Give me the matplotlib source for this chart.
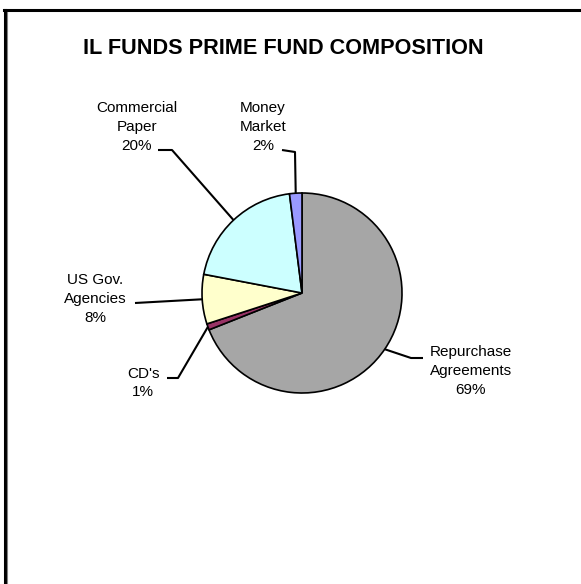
import numpy as np
import matplotlib.pyplot as plt
from matplotlib.lines import Line2D

plt.rcParams['font.family'] = ['Liberation Sans', 'DejaVu Sans']

# fund composition, clockwise from 12 o'clock
names = ["Repurchase\nAgreements", "CD's", "US Gov.\nAgencies",
         "Commercial\nPaper", "Money\nMarket"]
shares = [69, 1, 8, 20, 2]
colors = ['#A6A6A6', '#993366', '#FFFFCC', '#CCFFFF', '#9999FF']

W, H = 581, 584
fig = plt.figure(figsize=(W / 100, H / 100), dpi=100)
ax = fig.add_axes([0, 0, 1, 1])

# pie in pixel-like coords (y up)
cx, cy, R = 302, H - 293, 100
wedges, _ = ax.pie(shares, colors=colors, startangle=90, counterclock=False,
                   radius=R, center=(cx, cy),
                   wedgeprops=dict(edgecolor='black', linewidth=1.2))
ax.set_xlim(0, W)
ax.set_ylim(0, H)
ax.set_aspect('equal')
ax.axis('off')

# label placement: text centre and leader elbow/end (image px)
text_pos = [(471, 371), (143, 383), (95, 299), (137, 127), (263, 127)]
elbow = [(411, 358), (178, 378), None, (172, 150), (295, 152)]
line_end = [(423, 358), (167, 378), (135, 303), (158, 150), (282, 150)]

for w, name, val, tp, el, le in zip(wedges, names, shares, text_pos, elbow, line_end):
    mid = np.deg2rad((w.theta1 + w.theta2) / 2)
    ax_x = cx + R * np.cos(mid)
    ax_y = cy + R * np.sin(mid)
    pts = [(ax_x, ax_y)]
    if el is not None:
        pts.append((el[0], H - el[1]))
    pts.append((le[0], H - le[1]))
    xs, ys = zip(*pts)
    ax.plot(xs, ys, color='black', lw=1.5, solid_capstyle='butt')
    ax.text(tp[0], H - tp[1], f"{name}\n{val}%", ha='center', va='center',
            fontsize=11, linespacing=1.45)

ax.text(283, H - 48, "IL FUNDS PRIME FUND COMPOSITION", ha='center', va='center',
        fontsize=15.6, fontweight='bold')

# chart frame (cut off at right and bottom)
fig.add_artist(Line2D([4.5 / W, 4.5 / W], [0, 1 - 9.5 / H], color='black', lw=2.2,
                      transform=fig.transFigure))
fig.add_artist(Line2D([4 / W, 1], [1 - 10 / H, 1 - 10 / H], color='black', lw=2.2,
                      transform=fig.transFigure))
fig.add_artist(Line2D([6.5 / W, 6.5 / W], [0, 1 - 11.5 / H], color='#808080', lw=0.8,
                      transform=fig.transFigure))

fig.savefig('out.png', dpi=100)
